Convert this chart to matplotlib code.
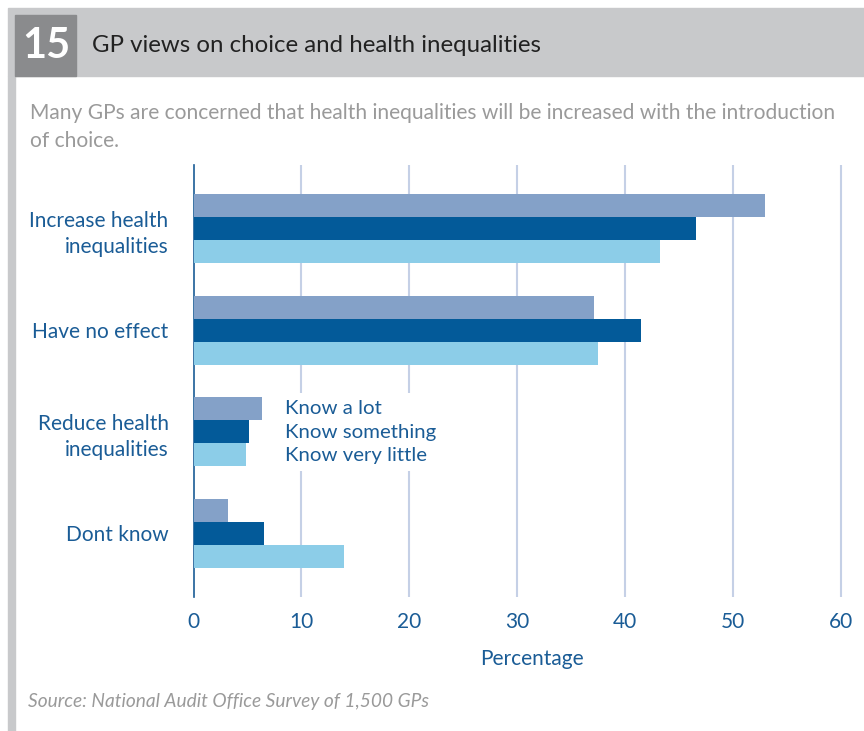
import matplotlib.pyplot as plt
from matplotlib.patches import Rectangle
import numpy as np

plt.rcParams['font.family'] = ['Lato', 'DejaVu Sans']

categories = ['Increase health\ninequalities', 'Have no effect', 'Reduce health\ninequalities', 'Dont know']
series = ['Know a lot', 'Know something', 'Know very little']
know_a_lot = [52.9, 37.1, 6.3, 3.2]
know_something = [46.5, 41.4, 5.1, 6.5]
know_very_little = [43.2, 37.5, 4.85, 13.9]
xticks = [0, 10, 20, 30, 40, 50, 60]

colors = ['#84A1C8', '#035A99', '#8CCDE8']
blue_text = '#1A5C96'
W, H = 864, 731

fig = plt.figure(figsize=(8.64, 7.31), dpi=100)

# header band, number box and left strip
fig.patches.append(Rectangle((8 / W, 1 - 76 / H), 856 / W, 68 / H, transform=fig.transFigure,
                             color='#C8C9CB', zorder=0))
fig.patches.append(Rectangle((15 / W, 1 - 76 / H), 61 / W, 61 / H, transform=fig.transFigure,
                             color='#8A8B8D', zorder=1))
fig.patches.append(Rectangle((8 / W, 0), 7 / W, 1 - 76 / H, transform=fig.transFigure,
                             color='#C8C9CB', zorder=0))
fig.text(46 / W, 1 - 46 / H, '15', color='white', fontsize=30, fontweight='bold',
         ha='center', va='center')
fig.text(92 / W, 1 - 46 / H, 'GP views on choice and health inequalities', color='#222222',
         fontsize=17.3, ha='left', va='center')
fig.text(30 / W, 1 - 127 / H,
         'Many GPs are concerned that health inequalities will be increased with the introduction\nof choice.',
         color='#9A9A9A', fontsize=15.1, ha='left', va='center', linespacing=1.55)
fig.text(28 / W, 1 - 702 / H, 'Source: National Audit Office Survey of 1,500 GPs', color='#9A9A9A',
         fontsize=13.8, style='italic', ha='left', va='center')

ax = fig.add_axes([193.5 / W, 1 - 597 / H, 650 / W, 432 / H])
y = np.arange(len(categories))
h = 0.227
bars = []
for i, vals in enumerate([know_a_lot, know_something, know_very_little]):
    b = ax.barh(y + (i - 1) * h, vals, height=h, color=colors[i], label=series[i], zorder=3)
    bars.append(b)

for t in xticks[1:]:
    ax.axvline(t, color='#C5D0E6', lw=1.5, zorder=1)

ax.set_xlim(0, 60.2)
ax.set_ylim(3.63, -0.63)
ax.set_xticks(xticks)
ax.set_yticks(y)
ax.set_yticklabels(categories, linespacing=1.4)
ax.tick_params(axis='both', length=0, colors=blue_text, labelsize=15)
ax.tick_params(axis='x', pad=11)
ax.tick_params(axis='y', pad=18)
for lab in ax.get_yticklabels():
    lab.set_horizontalalignment('right')
for s in ['top', 'right', 'bottom']:
    ax.spines[s].set_visible(False)
ax.spines['left'].set_color(blue_text)
ax.spines['left'].set_linewidth(1.2)
ax.set_xlabel('Percentage', color=blue_text, fontsize=15)
ax.xaxis.set_label_coords(0.52, -0.12)

leg = ax.legend(handles=bars, labels=series, loc='upper left', bbox_to_anchor=(0.115, 0.495),
                handlelength=0, handletextpad=0, frameon=True, facecolor='white',
                edgecolor='none', framealpha=1, fontsize=14.7, labelspacing=0.32,
                borderpad=0.3, labelcolor=blue_text)
for hnd in leg.legend_handles:
    hnd.set_visible(False)
leg.set_zorder(5)

fig.savefig('out.png', dpi=100)
